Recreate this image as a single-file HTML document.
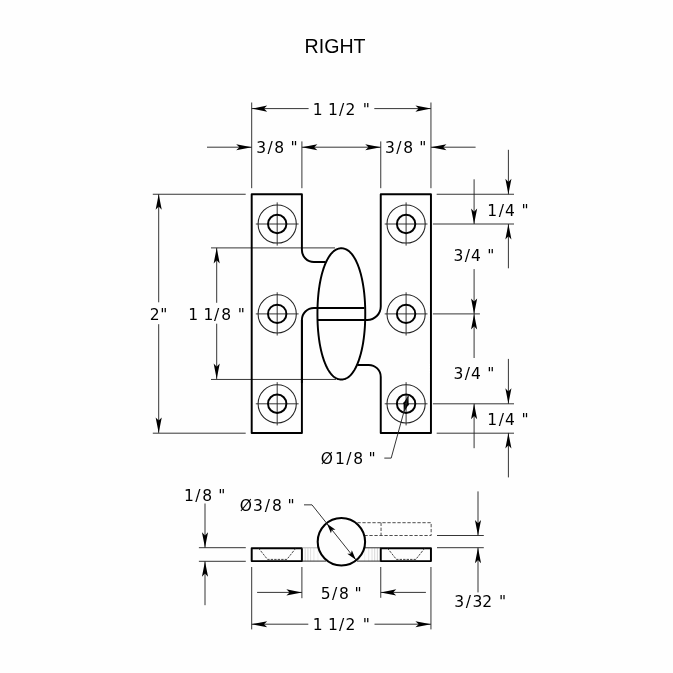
<!DOCTYPE html>
<html><head><meta charset="utf-8"><title>RIGHT</title>
<style>
html,body{margin:0;padding:0;background:#fefefe;}
svg{display:block;will-change:transform}
.t{stroke:#242424;stroke-width:0.92;fill:none}
.k{stroke:#000;stroke-width:1.95;fill:none;stroke-linejoin:round}
.a{fill:#000;stroke:none}
.g{stroke:#222;stroke-width:0.85;fill:none;stroke-dasharray:2.4 1.1}
.g2{stroke:#444;stroke-width:0.95;fill:none;stroke-dasharray:3.3 1.7}
.h{stroke:#c4c4c4;stroke-width:0.8}
.h2{stroke:#2a2a2a;stroke-width:1}
.h3{stroke:#aaa;stroke-width:0.9}
.d{font-family:"DejaVu Sans","Liberation Sans",sans-serif;font-size:15.5px;fill:#000}
.ttl{font-family:"Liberation Sans",sans-serif;font-size:19.6px;fill:#000}
</style></head><body>
<svg width="673" height="673" viewBox="0 0 673 673">
<rect width="673" height="673" fill="#fefefe"/>
<line class="t" x1="251.70" y1="102.50" x2="251.70" y2="188.20"/>
<line class="t" x1="301.90" y1="141.40" x2="301.90" y2="188.20"/>
<line class="t" x1="380.75" y1="141.40" x2="380.75" y2="188.20"/>
<line class="t" x1="430.95" y1="102.50" x2="430.95" y2="188.20"/>
<line class="t" x1="251.70" y1="108.60" x2="308.60" y2="108.60"/>
<line class="t" x1="374.30" y1="108.60" x2="430.95" y2="108.60"/>
<polygon class="a" points="251.70,108.60 267.20,105.55 264.00,108.60 267.20,111.65"/>
<polygon class="a" points="430.95,108.60 415.45,111.65 418.65,108.60 415.45,105.55"/>
<line class="t" x1="207.00" y1="147.20" x2="251.70" y2="147.20"/>
<polygon class="a" points="251.70,147.20 236.20,150.25 239.40,147.20 236.20,144.15"/>
<line class="t" x1="301.90" y1="147.20" x2="380.75" y2="147.20"/>
<polygon class="a" points="301.90,147.20 317.40,144.15 314.20,147.20 317.40,150.25"/>
<polygon class="a" points="380.75,147.20 365.25,150.25 368.45,147.20 365.25,144.15"/>
<line class="t" x1="430.95" y1="147.20" x2="475.60" y2="147.20"/>
<polygon class="a" points="430.95,147.20 446.45,144.15 443.25,147.20 446.45,150.25"/>
<line class="t" x1="152.80" y1="194.25" x2="245.70" y2="194.25"/>
<line class="t" x1="152.80" y1="433.20" x2="245.70" y2="433.20"/>
<line class="t" x1="158.70" y1="194.25" x2="158.70" y2="302.30"/>
<line class="t" x1="158.70" y1="324.20" x2="158.70" y2="432.90"/>
<polygon class="a" points="158.70,194.25 161.75,209.75 158.70,206.55 155.65,209.75"/>
<polygon class="a" points="158.70,432.90 155.65,417.40 158.70,420.60 161.75,417.40"/>
<line class="t" x1="211.00" y1="247.90" x2="335.00" y2="247.90"/>
<line class="t" x1="211.00" y1="379.45" x2="336.00" y2="379.45"/>
<line class="t" x1="216.70" y1="247.90" x2="216.70" y2="302.80"/>
<line class="t" x1="216.70" y1="323.70" x2="216.70" y2="379.10"/>
<polygon class="a" points="216.70,247.90 219.75,263.40 216.70,260.20 213.65,263.40"/>
<polygon class="a" points="216.70,379.10 213.65,363.60 216.70,366.80 219.75,363.60"/>
<line class="t" x1="436.70" y1="194.25" x2="514.00" y2="194.25"/>
<line class="t" x1="432.90" y1="224.00" x2="514.00" y2="224.00"/>
<line class="t" x1="432.90" y1="313.90" x2="479.90" y2="313.90"/>
<line class="t" x1="432.90" y1="403.80" x2="514.00" y2="403.80"/>
<line class="t" x1="436.70" y1="433.20" x2="514.00" y2="433.20"/>
<line class="t" x1="508.40" y1="149.80" x2="508.40" y2="194.25"/>
<polygon class="a" points="508.40,194.25 505.35,178.75 508.40,181.95 511.45,178.75"/>
<line class="t" x1="474.10" y1="179.30" x2="474.10" y2="224.00"/>
<polygon class="a" points="474.10,224.00 471.05,208.50 474.10,211.70 477.15,208.50"/>
<line class="t" x1="508.40" y1="224.00" x2="508.40" y2="268.30"/>
<polygon class="a" points="508.40,224.00 511.45,239.50 508.40,236.30 505.35,239.50"/>
<line class="t" x1="474.10" y1="269.10" x2="474.10" y2="313.90"/>
<polygon class="a" points="474.10,313.90 471.05,298.40 474.10,301.60 477.15,298.40"/>
<line class="t" x1="474.10" y1="313.90" x2="474.10" y2="358.00"/>
<polygon class="a" points="474.10,313.90 477.15,329.40 474.10,326.20 471.05,329.40"/>
<line class="t" x1="508.40" y1="358.90" x2="508.40" y2="403.80"/>
<polygon class="a" points="508.40,403.80 505.35,388.30 508.40,391.50 511.45,388.30"/>
<line class="t" x1="474.10" y1="403.80" x2="474.10" y2="448.20"/>
<polygon class="a" points="474.10,403.80 477.15,419.30 474.10,416.10 471.05,419.30"/>
<line class="t" x1="508.40" y1="432.90" x2="508.40" y2="477.40"/>
<polygon class="a" points="508.40,432.90 511.45,448.40 508.40,445.20 505.35,448.40"/>
<circle class="t" cx="277.2" cy="224.0" r="19.1" style="stroke-width:1.05;stroke:#222"/>
<line class="t" x1="255.80" y1="224.00" x2="298.60" y2="224.00"/>
<line class="t" x1="277.20" y1="202.40" x2="277.20" y2="245.60"/>
<circle class="k" cx="277.2" cy="224.0" r="9.2"/>
<circle class="t" cx="277.2" cy="313.9" r="19.1" style="stroke-width:1.05;stroke:#222"/>
<line class="t" x1="255.80" y1="313.90" x2="298.60" y2="313.90"/>
<line class="t" x1="277.20" y1="292.30" x2="277.20" y2="335.50"/>
<circle class="k" cx="277.2" cy="313.9" r="9.2"/>
<circle class="t" cx="277.2" cy="403.8" r="19.1" style="stroke-width:1.05;stroke:#222"/>
<line class="t" x1="255.80" y1="403.80" x2="298.60" y2="403.80"/>
<line class="t" x1="277.20" y1="382.20" x2="277.20" y2="425.40"/>
<circle class="k" cx="277.2" cy="403.8" r="9.2"/>
<circle class="t" cx="406.1" cy="224.0" r="19.1" style="stroke-width:1.05;stroke:#222"/>
<line class="t" x1="384.70" y1="224.00" x2="427.50" y2="224.00"/>
<line class="t" x1="406.10" y1="202.40" x2="406.10" y2="245.60"/>
<circle class="k" cx="406.1" cy="224.0" r="9.2"/>
<circle class="t" cx="406.1" cy="313.9" r="19.1" style="stroke-width:1.05;stroke:#222"/>
<line class="t" x1="384.70" y1="313.90" x2="427.50" y2="313.90"/>
<line class="t" x1="406.10" y1="292.30" x2="406.10" y2="335.50"/>
<circle class="k" cx="406.1" cy="313.9" r="9.2"/>
<circle class="t" cx="406.1" cy="403.8" r="19.1" style="stroke-width:1.05;stroke:#222"/>
<line class="t" x1="384.70" y1="403.80" x2="427.50" y2="403.80"/>
<line class="t" x1="406.10" y1="382.20" x2="406.10" y2="425.40"/>
<circle class="k" cx="406.1" cy="403.8" r="9.2"/>
<path class="k" d="M301.9,319.95 V432.9 H251.7 V194.25 H301.9 V250.0 A12.0,12.0 0 0 0 313.9,262.0 H325.6"/>
<path class="k" d="M301.9,382.9 V320.0 A12.0,12.0 0 0 1 313.9,308.0 H364.4"/>
<path class="k" d="M317.6,319.95 H367.25 A13.5,13.5 0 0 0 380.75,306.45 V194.25 H430.95 V432.9 H380.75 V376.9 A12.0,12.0 0 0 0 368.75,364.9 H357.4"/>
<polygon class="k" points="365.25,313.90 365.24,315.94 365.22,317.85 365.18,319.71 365.13,321.54 365.06,323.33 364.97,325.11 364.87,326.86 364.75,328.60 364.62,330.31 364.47,332.01 364.31,333.68 364.13,335.34 363.94,336.97 363.74,338.59 363.51,340.18 363.28,341.75 363.03,343.30 362.76,344.82 362.48,346.32 362.19,347.80 361.88,349.25 361.56,350.68 361.23,352.08 360.88,353.45 360.52,354.79 360.15,356.10 359.76,357.39 359.36,358.64 358.95,359.87 358.53,361.06 358.10,362.22 357.65,363.34 357.19,364.44 356.73,365.50 356.25,366.52 355.76,367.51 355.26,368.46 354.75,369.38 354.23,370.26 353.70,371.10 353.16,371.91 352.62,372.67 352.06,373.40 351.50,374.09 350.92,374.74 350.34,375.34 349.76,375.91 349.16,376.44 348.56,376.92 347.95,377.37 347.33,377.77 346.70,378.13 346.07,378.45 345.43,378.73 344.79,378.97 344.13,379.16 343.47,379.31 342.79,379.41 342.09,379.48 341.35,379.50 340.61,379.48 339.91,379.41 339.23,379.31 338.57,379.16 337.91,378.97 337.27,378.73 336.63,378.45 336.00,378.13 335.37,377.77 334.75,377.37 334.14,376.92 333.54,376.44 332.94,375.91 332.36,375.34 331.78,374.74 331.20,374.09 330.64,373.40 330.08,372.67 329.54,371.91 329.00,371.10 328.47,370.26 327.95,369.38 327.44,368.46 326.94,367.51 326.45,366.52 325.97,365.50 325.51,364.44 325.05,363.34 324.60,362.22 324.17,361.06 323.75,359.87 323.34,358.64 322.94,357.39 322.55,356.10 322.18,354.79 321.82,353.45 321.47,352.08 321.14,350.68 320.82,349.25 320.51,347.80 320.22,346.32 319.94,344.82 319.67,343.30 319.42,341.75 319.19,340.18 318.96,338.59 318.76,336.97 318.57,335.34 318.39,333.68 318.23,332.01 318.08,330.31 317.95,328.60 317.83,326.86 317.73,325.11 317.64,323.33 317.57,321.54 317.52,319.71 317.48,317.85 317.46,315.94 317.45,313.90 317.46,311.86 317.48,309.95 317.52,308.09 317.57,306.26 317.64,304.47 317.73,302.69 317.83,300.94 317.95,299.20 318.08,297.49 318.23,295.79 318.39,294.12 318.57,292.46 318.76,290.83 318.96,289.21 319.19,287.62 319.42,286.05 319.67,284.50 319.94,282.98 320.22,281.48 320.51,280.00 320.82,278.55 321.14,277.12 321.47,275.72 321.82,274.35 322.18,273.01 322.55,271.70 322.94,270.41 323.34,269.16 323.75,267.93 324.17,266.74 324.60,265.58 325.05,264.46 325.51,263.36 325.97,262.30 326.45,261.28 326.94,260.29 327.44,259.34 327.95,258.42 328.47,257.54 329.00,256.70 329.54,255.89 330.08,255.13 330.64,254.40 331.20,253.71 331.78,253.06 332.36,252.46 332.94,251.89 333.54,251.36 334.14,250.88 334.75,250.43 335.37,250.03 336.00,249.67 336.63,249.35 337.27,249.07 337.91,248.83 338.57,248.64 339.23,248.49 339.91,248.39 340.61,248.32 341.35,248.30 342.09,248.32 342.79,248.39 343.47,248.49 344.13,248.64 344.79,248.83 345.43,249.07 346.07,249.35 346.70,249.67 347.33,250.03 347.95,250.43 348.56,250.88 349.16,251.36 349.76,251.89 350.34,252.46 350.92,253.06 351.50,253.71 352.06,254.40 352.62,255.13 353.16,255.89 353.70,256.70 354.23,257.54 354.75,258.42 355.26,259.34 355.76,260.29 356.25,261.28 356.73,262.30 357.19,263.36 357.65,264.46 358.10,265.58 358.53,266.74 358.95,267.93 359.36,269.16 359.76,270.41 360.15,271.70 360.52,273.01 360.88,274.35 361.23,275.72 361.56,277.12 361.88,278.55 362.19,280.00 362.48,281.48 362.76,282.98 363.03,284.50 363.28,286.05 363.51,287.62 363.74,289.21 363.94,290.83 364.13,292.46 364.31,294.12 364.47,295.79 364.62,297.49 364.75,299.20 364.87,300.94 364.97,302.69 365.06,304.47 365.13,306.26 365.18,308.09 365.22,309.95 365.24,311.86"/>
<polygon class="a" points="408.46,395.22 408.70,405.65 406.23,403.32 402.92,404.07"/>
<polygon class="a" points="403.74,412.38 403.50,401.95 405.97,404.28 409.28,403.53"/>
<line class="t" x1="408.46" y1="395.22" x2="391.20" y2="458.10"/>
<line class="t" x1="391.20" y1="458.10" x2="384.30" y2="458.10"/>
<rect class="k" x="251.7" y="548.2" width="50.20" height="12.90"/>
<rect class="k" x="380.75" y="548.2" width="50.20" height="12.90"/>
<path class="g" d="M258.59999999999997,548.2 L267.5,559.4 H286.9 L295.8,548.2"/>
<path class="g" d="M387.5,548.2 L396.40000000000003,559.4 H415.8 L424.70000000000005,548.2"/>
<line stroke="#ececec" stroke-width="0.9" x1="364.70" y1="548.2" x2="364.70" y2="561.1"/>
<line stroke="#ececec" stroke-width="0.9" x1="317.90" y1="548.2" x2="317.90" y2="561.1"/>
<line stroke="#e2e2e2" stroke-width="0.9" x1="368.70" y1="548.2" x2="368.70" y2="561.1"/>
<line stroke="#e2e2e2" stroke-width="0.9" x1="313.90" y1="548.2" x2="313.90" y2="561.1"/>
<line stroke="#dadada" stroke-width="0.9" x1="372.00" y1="548.2" x2="372.00" y2="561.1"/>
<line stroke="#dadada" stroke-width="0.9" x1="310.60" y1="548.2" x2="310.60" y2="561.1"/>
<line stroke="#d4d4d4" stroke-width="0.9" x1="374.70" y1="548.2" x2="374.70" y2="561.1"/>
<line stroke="#d4d4d4" stroke-width="0.9" x1="307.90" y1="548.2" x2="307.90" y2="561.1"/>
<line stroke="#d0d0d0" stroke-width="0.9" x1="377.40" y1="548.2" x2="377.40" y2="561.1"/>
<line stroke="#d0d0d0" stroke-width="0.9" x1="305.20" y1="548.2" x2="305.20" y2="561.1"/>
<line class="h2" x1="301.90" y1="561.10" x2="326.00" y2="561.10"/>
<line class="h2" x1="357.00" y1="561.10" x2="380.75" y2="561.10"/>
<line class="h3" x1="301.90" y1="547.80" x2="319.00" y2="547.80"/>
<line class="h2" x1="363.50" y1="547.80" x2="380.75" y2="547.80"/>
<path class="g2" d="M357.4,522.7 H431.15 V535.5 H364.5 M381.05,522.7 V535.5"/>
<circle class="k" cx="341.4" cy="541.7" r="23.7" style="fill:#fefefe;stroke-width:2.05"/>
<line class="t" x1="304.00" y1="504.85" x2="312.00" y2="504.85"/>
<line class="t" x1="312.00" y1="504.85" x2="356.18" y2="560.23"/>
<polygon class="a" points="326.99,523.64 335.50,529.65 331.86,529.74 330.96,533.27"/>
<polygon class="a" points="355.81,559.76 347.30,553.75 350.94,553.66 351.84,550.13"/>
<line class="t" x1="198.90" y1="547.70" x2="245.80" y2="547.70"/>
<line class="t" x1="198.90" y1="561.30" x2="245.80" y2="561.30"/>
<line class="t" x1="205.00" y1="503.50" x2="205.00" y2="547.70"/>
<polygon class="a" points="205.00,547.70 201.95,532.20 205.00,535.40 208.05,532.20"/>
<line class="t" x1="205.00" y1="561.30" x2="205.00" y2="605.20"/>
<polygon class="a" points="205.00,561.30 208.05,576.80 205.00,573.60 201.95,576.80"/>
<line class="t" x1="437.00" y1="535.50" x2="483.80" y2="535.50"/>
<line class="t" x1="437.00" y1="547.70" x2="483.80" y2="547.70"/>
<line class="t" x1="478.00" y1="491.40" x2="478.00" y2="535.50"/>
<polygon class="a" points="478.00,535.50 474.95,520.00 478.00,523.20 481.05,520.00"/>
<line class="t" x1="478.00" y1="547.70" x2="478.00" y2="592.40"/>
<polygon class="a" points="478.00,547.70 481.05,563.20 478.00,560.00 474.95,563.20"/>
<line class="t" x1="251.70" y1="567.00" x2="251.70" y2="629.40"/>
<line class="t" x1="301.90" y1="567.00" x2="301.90" y2="598.20"/>
<line class="t" x1="380.75" y1="567.00" x2="380.75" y2="597.80"/>
<line class="t" x1="430.95" y1="567.00" x2="430.95" y2="629.40"/>
<line class="t" x1="257.10" y1="592.40" x2="301.90" y2="592.40"/>
<polygon class="a" points="301.90,592.40 286.40,595.45 289.60,592.40 286.40,589.35"/>
<line class="t" x1="380.75" y1="592.40" x2="425.90" y2="592.40"/>
<polygon class="a" points="380.75,592.40 396.25,589.35 393.05,592.40 396.25,595.45"/>
<line class="t" x1="251.70" y1="624.20" x2="308.30" y2="624.20"/>
<polygon class="a" points="251.70,624.20 267.20,621.15 264.00,624.20 267.20,627.25"/>
<line class="t" x1="374.50" y1="624.20" x2="430.95" y2="624.20"/>
<polygon class="a" points="430.95,624.20 415.45,627.25 418.65,624.20 415.45,621.15"/>
<text class="ttl" x="335.10" y="52.50" text-anchor="middle">RIGHT</text>
<text class="d" x="312.75 322.94 327.94 339.00 345.57 355.77 362.71" y="114.65">1 1/2 "</text>
<text class="d" x="256.13 267.38 274.36 284.56 290.41" y="152.95">3/8 "</text>
<text class="d" x="384.88 396.20 403.20 413.40 419.34" y="152.95">3/8 "</text>
<text class="d" x="149.75 160.17" y="319.65">2"</text>
<text class="d" x="188.31 198.51 203.38 213.97 221.13 231.33 237.79" y="319.70">1 1/8 "</text>
<text class="d" x="487.19 498.70 505.09 515.29 521.48" y="215.55">1/4 "</text>
<text class="d" x="453.45 464.79 470.99 481.19 487.37" y="260.85">3/4 "</text>
<text class="d" x="453.45 464.79 470.99 481.19 487.37" y="378.80">3/4 "</text>
<text class="d" x="487.19 498.70 505.09 515.29 521.48" y="424.60">1/4 "</text>
<text class="d" x="320.67 334.93 346.14 353.18 363.38 368.43" y="464.40">Ø1/8 "</text>
<text class="d" x="184.09 195.33 202.31 212.51 218.18" y="500.70">1/8 "</text>
<text class="d" x="239.85 253.06 264.64 271.92 282.12 287.39" y="510.75">Ø3/8 "</text>
<text class="d" x="320.85 331.92 338.99 349.19 354.56" y="598.90">5/8 "</text>
<text class="d" x="312.75 322.94 327.94 339.00 345.57 355.77 362.71" y="629.75">1 1/2 "</text>
<text class="d" x="454.31 465.68 472.62 482.24 492.44 499.04" y="606.90">3/32 "</text>
</svg>
</body></html>
